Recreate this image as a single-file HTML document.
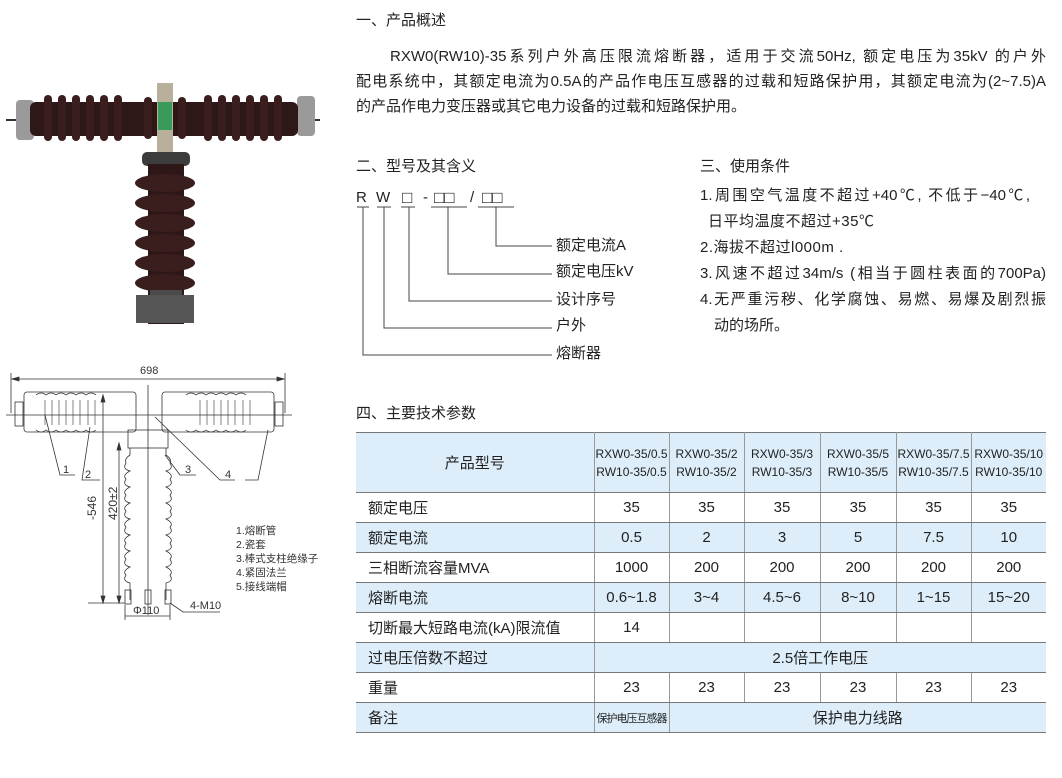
<!DOCTYPE html>
<html><head><meta charset="utf-8"><style>
body{margin:0;width:1062px;height:778px;background:#fff;position:relative;overflow:hidden;font-family:"Liberation Sans","Noto Sans CJK SC",sans-serif;color:#222}
.t{position:absolute;font-size:15px;white-space:nowrap;line-height:20px}
.j{position:absolute;font-size:15px;line-height:20px;white-space:nowrap;text-align:justify;text-align-last:justify}
table{position:absolute;left:356px;top:432px;border-collapse:collapse;font-size:15px;table-layout:fixed}
td{border-left:1px solid #999;border-right:1px solid #999;border-top:1.5px solid #777;border-bottom:1.5px solid #777;height:29px;padding:0;text-align:center}
td:first-child{border-left:none;text-align:left;padding-left:12px}
tr td:last-child{border-right:none}
.b td{background:#ddeefa}
.h td{height:59px}
.s{font-size:12px;line-height:18px;font-family:"Liberation Sans Narrow","Liberation Sans","Noto Sans CJK SC",sans-serif}
</style></head><body>

<!-- photo -->
<svg style="position:absolute;left:0;top:60px" width="340" height="270">
<line x1="6" y1="60" x2="320" y2="60" stroke="#333" stroke-width="2"/>
<rect x="16" y="40" width="18" height="40" rx="4" fill="#9a9a9a"/>
<rect x="297" y="36" width="18" height="40" rx="4" fill="#9a9a9a"/>
<rect x="30" y="42" width="268" height="34" rx="6" fill="#2e1717"/>
<g fill="#3a1d1d">
<rect x="44" y="35" width="8" height="46" rx="4"/><rect x="58" y="35" width="8" height="46" rx="4"/><rect x="72" y="35" width="8" height="46" rx="4"/><rect x="86" y="35" width="8" height="46" rx="4"/><rect x="100" y="35" width="8" height="46" rx="4"/><rect x="114" y="35" width="8" height="46" rx="4"/><rect x="144" y="37" width="8" height="42" rx="4"/><rect x="178" y="37" width="8" height="42" rx="4"/>
<rect x="204" y="35" width="8" height="46" rx="4"/><rect x="218" y="35" width="8" height="46" rx="4"/><rect x="232" y="35" width="8" height="46" rx="4"/><rect x="246" y="35" width="8" height="46" rx="4"/><rect x="260" y="35" width="8" height="46" rx="4"/><rect x="274" y="35" width="8" height="46" rx="4"/>
</g>
<rect x="157" y="23" width="16" height="80" fill="#b8b09a"/>
<rect x="158" y="42" width="14" height="28" fill="#3a9a5a"/>
<rect x="142" y="92" width="48" height="14" rx="5" fill="#3c3c3c"/>
<rect x="148" y="104" width="36" height="160" fill="#2e1717"/>
<g fill="#3a1d1d">
<ellipse cx="165" cy="123" rx="30" ry="9"/><ellipse cx="165" cy="143" rx="30" ry="9"/><ellipse cx="165" cy="163" rx="30" ry="9"/><ellipse cx="165" cy="183" rx="30" ry="9"/><ellipse cx="165" cy="203" rx="30" ry="9"/><ellipse cx="165" cy="223" rx="30" ry="9"/>
</g>
<rect x="150" y="230" width="32" height="30" fill="#4a4a4a"/>
<rect x="136" y="235" width="58" height="28" fill="#555"/>
</svg>

<!-- drawing -->
<svg style="position:absolute;left:0;top:355px" width="340" height="270" font-family="Liberation Sans" fill="none" stroke="#333" stroke-width="0.8">
<line x1="12" y1="24" x2="284" y2="24"/><path d="M12 24l7-2v4zM284 24l-7-2v4z" fill="#333"/>
<line x1="11" y1="18" x2="11" y2="58"/><line x1="285" y1="18" x2="285" y2="58"/>
<text x="140" y="19" font-size="11" fill="#333" stroke="none">698</text>
<line x1="6" y1="60" x2="292" y2="60"/>
<line x1="148" y1="30" x2="148" y2="260"/>
<rect x="24" y="37" width="112" height="40" rx="3"/>
<rect x="162" y="37" width="112" height="40" rx="3"/>
<path d="M36 40 q5 -4 10 0 q5 -4 10 0 q5-4 10 0 q5-4 10 0 q5-4 10 0 q5-4 10 0 M36 75 q5 4 10 0 q5 4 10 0 q5 4 10 0 q5 4 10 0 q5 4 10 0 q5 4 10 0"/>
<path d="M186 40 q5 -4 10 0 q5 -4 10 0 q5-4 10 0 q5-4 10 0 q5-4 10 0 q5-4 10 0 M186 75 q5 4 10 0 q5 4 10 0 q5 4 10 0 q5 4 10 0 q5 4 10 0 q5 4 10 0"/>
<g stroke-width="0.6"><path d="M45 45v25M52 45v25M59 45v25M66 45v25M73 45v25M80 45v25M88 45v25M95 45v25M200 45v25M207 45v25M214 45v25M221 45v25M228 45v25M235 45v25M243 45v25M250 45v25"/></g>
<rect x="15" y="47" width="8" height="24"/><rect x="275" y="47" width="8" height="24"/>
<rect x="128" y="75" width="40" height="18"/>
<path d="M130 93 L130 100 Q124 104 126 108 Q122 114 130 116 Q122 120 126 124 Q122 130 130 132 Q122 136 126 140 Q122 146 130 148 Q122 152 126 156 Q122 162 130 164 Q122 168 126 172 Q122 178 130 180 Q122 184 126 188 Q122 194 130 196 Q122 200 126 204 Q122 210 130 212 Q122 216 126 220 Q122 226 130 228 L130 245"/>
<path d="M166 93 L166 100 Q172 104 170 108 Q174 114 166 116 Q174 120 170 124 Q174 130 166 132 Q174 136 170 140 Q174 146 166 148 Q174 152 170 156 Q174 162 166 164 Q174 168 170 172 Q174 178 166 180 Q174 184 170 188 Q174 194 166 196 Q174 200 170 204 Q174 210 166 212 Q174 216 170 220 Q174 226 166 228 L166 245"/>
<rect x="125" y="235" width="6" height="14"/><rect x="145" y="235" width="6" height="14"/><rect x="165" y="235" width="6" height="14"/>
<line x1="103" y1="40" x2="103" y2="248"/><line x1="119" y1="88" x2="119" y2="248"/>
<path d="M103 248l-2-7h4zM119 248l-2-7h4zM119 88l-2 7h4zM103 40l-2 7h4z" fill="#333"/>
<line x1="88" y1="248" x2="125" y2="248"/>
<line x1="125" y1="250" x2="125" y2="265"/><line x1="170" y1="250" x2="170" y2="265"/>
<line x1="125" y1="261" x2="170" y2="261"/>
<text x="96" y="165" font-size="12" fill="#333" stroke="none" transform="rotate(-90 96 165)">-546</text>
<text x="117" y="165" font-size="12" fill="#333" stroke="none" transform="rotate(-90 117 165)">420±2</text>
<text x="133" y="259" font-size="11" fill="#333" stroke="none">Φ110</text>
<path d="M170 248 L183 257 L220 257"/>
<text x="190" y="254" font-size="11" fill="#333" stroke="none">4-M10</text>
<path d="M45 60 L60 120 L75 120 M90 72 L82 125 L100 125 M165 100 L180 120 L196 120 M155 62 L220 125 L235 125 M268 75 L258 125 L245 125"/>
<g font-size="11" fill="#333" stroke="none"><text x="63" y="118">1</text><text x="85" y="123">2</text><text x="185" y="118">3</text><text x="225" y="123">4</text></g>
<g font-size="10.5" fill="#333" stroke="none" font-family="Liberation Sans,Noto Sans CJK SC"><text x="236" y="179">1.熔断管</text><text x="236" y="193">2.瓷套</text><text x="236" y="207">3.棒式支柱绝缘子</text><text x="236" y="221">4.紧固法兰</text><text x="236" y="235">5.接线端帽</text></g>
</svg>

<div class="t" style="left:356px;top:11px">一、产品概述</div>
<div class="j" style="left:390px;top:47px;width:656px">RXW0(RW10)-35系列户外高压限流熔断器，适用于交流50Hz, 额定电压为35kV 的户外</div>
<div class="j" style="left:356px;top:72px;width:690px">配电系统中，其额定电流为0.5A的产品作电压互感器的过载和短路保护用，其额定电流为(2~7.5)A</div>
<div class="t" style="left:356px;top:97px">的产品作电力变压器或其它电力设备的过载和短路保护用。</div>

<div class="t" style="left:356px;top:157px">二、型号及其含义</div>
<div class="t" style="left:356px;top:188px">R</div><div class="t" style="left:376px;top:188px">W</div>
<div class="t" style="left:402px;top:188px;font-size:17px">□</div><div class="t" style="left:423px;top:188px">-</div>
<div class="t" style="left:434px;top:188px;font-size:17px">□□</div><div class="t" style="left:470px;top:188px">/</div>
<div class="t" style="left:482px;top:188px;font-size:17px">□□</div>
<svg style="position:absolute;left:350px;top:200px" width="210" height="165" fill="none" stroke="#444" stroke-width="1">
<path d="M7 7h12M27 7h14M51 7h14M81 7h36M128 7h36"/>
<path d="M13 7V155H202M34 7V128H202M59 7V101H202M98 7V74H202M146 7V46H202"/>
</svg>
<div class="t" style="left:556px;top:236px">额定电流A</div>
<div class="t" style="left:556px;top:262px">额定电压kV</div>
<div class="t" style="left:556px;top:290px">设计序号</div>
<div class="t" style="left:556px;top:316px">户外</div>
<div class="t" style="left:556px;top:344px">熔断器</div>

<div class="t" style="left:700px;top:157px">三、使用条件</div>
<div class="j" style="left:700px;top:186px;width:330px">1.周围空气温度不超过+40℃, 不低于−40℃,</div>
<div class="t" style="left:708px;top:212px;letter-spacing:0.5px">日平均温度不超过+35℃</div>
<div class="t" style="left:700px;top:238px;letter-spacing:0.5px">2.海拔不超过l000m .</div>
<div class="j" style="left:700px;top:264px;width:346px">3.风速不超过34m/s (相当于圆柱表面的700Pa)</div>
<div class="j" style="left:700px;top:290px;width:346px">4.无严重污秽、化学腐蚀、易燃、易爆及剧烈振</div>
<div class="t" style="left:714px;top:316px">动的场所。</div>

<div class="t" style="left:356px;top:404px">四、主要技术参数</div>

<table>
<colgroup><col style="width:238px"><col style="width:75px"><col style="width:75px"><col style="width:76px"><col style="width:76px"><col style="width:75px"><col style="width:75px"></colgroup>
<tr class="b h"><td style="text-align:center;padding:0">产品型号</td><td class="s">RXW0-35/0.5<br>RW10-35/0.5</td><td class="s">RXW0-35/2<br>RW10-35/2</td><td class="s">RXW0-35/3<br>RW10-35/3</td><td class="s">RXW0-35/5<br>RW10-35/5</td><td class="s">RXW0-35/7.5<br>RW10-35/7.5</td><td class="s">RXW0-35/10<br>RW10-35/10</td></tr>
<tr><td>额定电压</td><td>35</td><td>35</td><td>35</td><td>35</td><td>35</td><td>35</td></tr>
<tr class="b"><td>额定电流</td><td>0.5</td><td>2</td><td>3</td><td>5</td><td>7.5</td><td>10</td></tr>
<tr><td>三相断流容量MVA</td><td>1000</td><td>200</td><td>200</td><td>200</td><td>200</td><td>200</td></tr>
<tr class="b"><td>熔断电流</td><td>0.6~1.8</td><td>3~4</td><td>4.5~6</td><td>8~10</td><td>1~15</td><td>15~20</td></tr>
<tr><td>切断最大短路电流(kA)限流值</td><td>14</td><td></td><td></td><td></td><td></td><td></td></tr>
<tr class="b"><td>过电压倍数不超过</td><td colspan="6">2.5倍工作电压</td></tr>
<tr><td>重量</td><td>23</td><td>23</td><td>23</td><td>23</td><td>23</td><td>23</td></tr>
<tr class="b"><td>备注</td><td style="font-size:11px;letter-spacing:-1px">保护电压互感器</td><td colspan="5">保护电力线路</td></tr>
</table>
</body></html>
